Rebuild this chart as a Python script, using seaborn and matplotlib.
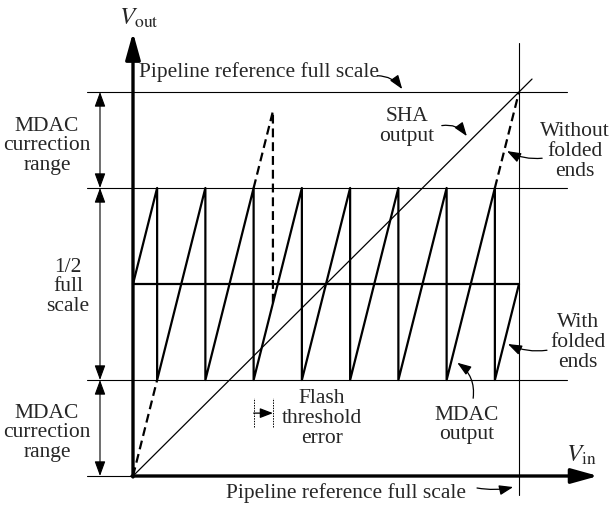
import matplotlib
matplotlib.use("Agg")
import matplotlib.pyplot as plt
import seaborn as sns
import pandas as pd

# ---------------- data (in diagram units: x = Vin / threshold spacing, y = Vout) -------------
thresholds = [0.5, 1.5, 2.5, 3.5, 4.5, 5.5, 6.5, 7.5]          # comparator thresholds
saw_x = [0, 0.5, 0.5, 1.5, 1.5, 2.5, 2.5, 3.5, 3.5, 4.5, 4.5, 5.5, 5.5, 6.5, 6.5, 7.5, 7.5, 8]
saw_y = [2, 3, 1, 3, 1, 3, 1, 3, 1, 3, 1, 3, 1, 3, 1, 3, 1, 2]   # MDAC output, folded ends
low_end_x = [0, 0.5]            # without folded ends (bottom-left)
low_end_y = [0, 1]
high_end_x = [7.5, 8]           # without folded ends (top-right)
high_end_y = [3, 4]
err_x = [2.5, 2.9, 2.9]         # flash threshold error excursion
err_y = [3, 3.8, 1.8]
sha_x = [0, 8.27]               # SHA output
sha_y = [0, 4.135]
levels = [1, 3, 4]              # thin reference levels
mid_level = 2                   # half full scale
full_x = 8                      # pipeline reference full scale (input)

PX0, PY0, SX, SY = 133, 476, 48.25, 96.0
W, H = 611, 508

sns.set_theme(style="white")
plt.rcParams["font.family"] = ["Liberation Serif", "DejaVu Serif"]
plt.rcParams["mathtext.fontset"] = "stix"

fig = plt.figure(figsize=(W / 100, H / 100), dpi=100)
ax = fig.add_axes([0, 0, 1, 1])
ax.set_xlim(-PX0 / SX, (W - PX0) / SX)
ax.set_ylim((PY0 - H) / SY, PY0 / SY)
ax.axis("off")

K = "black"
FS = 15.5

def line(xs, ys, lw, ls="-"):
    sns.lineplot(x=xs, y=ys, color=K, lw=lw, ax=ax, sort=False, estimator=None, linestyle=ls)

# thin reference levels
for lv in levels:
    line([-0.953, 9.0], [lv, lv], 0.8)
line([-0.953, 0], [0, 0], 0.8)
# right vertical full-scale line
line([full_x, full_x], [-0.198, 4.51], 0.8)

# mid level (thick)
line([0, full_x], [mid_level, mid_level], 1.6)

# sawtooth
line(saw_x, saw_y, 1.6)
# dashed
for xs, ys in [(low_end_x, low_end_y), (high_end_x, high_end_y), (err_x, err_y)]:
    line(xs, ys, 1.6, (0, (4, 2.2)))
# SHA
line(sha_x, sha_y, 0.9)

# axes with arrows
axp = dict(arrowstyle="-|>,head_length=0.9,head_width=0.25", lw=2.4, color=K,
           shrinkA=0, shrinkB=0, mutation_scale=18)
ax.annotate("", xy=(0, 4.62), xytext=(0, -0.01), arrowprops=axp)
ax.annotate("", xy=(9.64, 0), xytext=(-0.02, 0), arrowprops=axp)
ax.text(0.12, 4.77, r"$V_{\rm out}$", fontsize=18, ha="center", va="center")
ax.text(9.3, 0.22, r"$V_{\rm in}$", fontsize=18, ha="center", va="center")

# left dimension arrows
xd = -0.684
for a, b in [(3, 4), (1, 3), (0, 1)]:
    ax.annotate("", xy=(xd, b), xytext=(xd, a),
                arrowprops=dict(arrowstyle="<|-|>,head_length=0.9,head_width=0.33", lw=0.8,
                                color=K, shrinkA=0, shrinkB=0, mutation_scale=10))

tk = dict(fontsize=FS, ha="center", va="center", linespacing=1.05)
ax.text(-1.78, 3.44, "MDAC\ncurrection\nrange", **tk)
ax.text(-1.35, 1.97, "1/2\nfull\nscale", **tk)
ax.text(-1.78, 0.45, "MDAC\ncurrection\nrange", **tk)

ax.text(0.13, 4.21, "Pipeline reference full scale", fontsize=FS, ha="left", va="center")
ax.text(1.93, -0.18, "Pipeline reference full scale", fontsize=FS, ha="left", va="center")
ax.text(5.68, 3.64, "SHA\noutput", **tk)
ax.text(9.16, 3.38, "Without\nfolded\nends", **tk)
ax.text(9.22, 1.39, "With\nfolded\nends", **tk)
ax.text(6.92, 0.53, "MDAC\noutput", **tk)
ax.text(3.92, 0.60, "Flash\nthreshold\nerror", **tk)

ap = dict(arrowstyle="-|>,head_length=1.4,head_width=0.5", lw=0.9, color=K,
          shrinkA=0, shrinkB=0, mutation_scale=6)
ax.annotate("", xy=(5.58, 4.03), xytext=(5.06, 4.17), arrowprops=dict(ap, connectionstyle="arc3,rad=-0.25"))
ax.annotate("", xy=(6.92, 3.54), xytext=(6.40, 3.65), arrowprops=dict(ap, connectionstyle="arc3,rad=-0.3"))
ax.annotate("", xy=(7.75, 3.385), xytext=(8.48, 3.31), arrowprops=dict(ap, connectionstyle="arc3,rad=-0.15"))
ax.annotate("", xy=(7.77, 1.375), xytext=(8.58, 1.31), arrowprops=dict(ap, connectionstyle="arc3,rad=-0.15"))
ax.annotate("", xy=(6.72, 1.18), xytext=(7.05, 0.81), arrowprops=dict(ap, connectionstyle="arc3,rad=0.3"))
ax.annotate("", xy=(7.88, -0.115), xytext=(7.13, -0.125), arrowprops=dict(ap, connectionstyle="arc3,rad=0.1"))

# flash threshold error marker
for xm in [2.5, 2.9]:
    line([xm, xm], [0.51, 0.81], 0.7, (0, (1.5, 1.2)))
ax.annotate("", xy=(2.9, 0.655), xytext=(2.5, 0.655),
            arrowprops=dict(arrowstyle="-|>,head_length=1.3,head_width=0.5", lw=0.9, color=K,
                            shrinkA=0, shrinkB=0, mutation_scale=6))

fig.savefig("out.png", dpi=100, facecolor="white")
